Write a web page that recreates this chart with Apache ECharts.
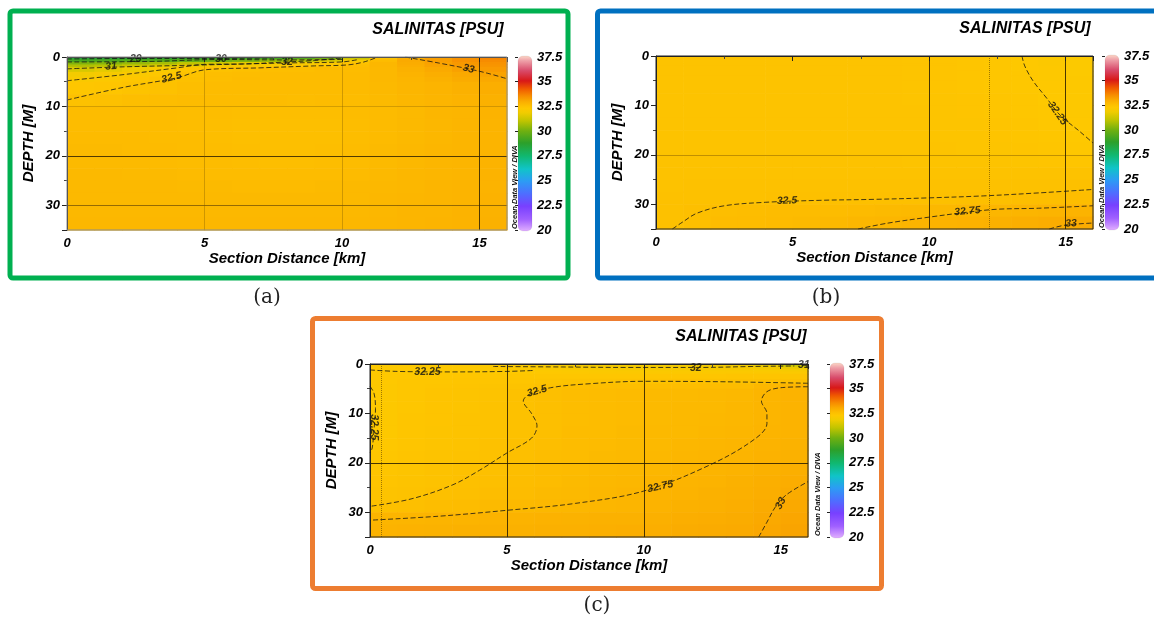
<!DOCTYPE html>
<html>
<head>
<meta charset="utf-8">
<script src="https://cdn.jsdelivr.net/npm/echarts@6/dist/echarts.min.js"></script>
<style>
  html, body { margin: 0; padding: 0; background: #ffffff; }
  #chart { width: 1154px; height: 620px; }
</style>
</head>
<body>
<div id="chart"></div>
<script>
// ---- Section grid (cell edges) ----
const distanceEdges = [0, 1, 2, 3, 4, 5, 6, 7, 8, 9, 10, 11, 12, 13, 14, 15, 16];
const depthEdges = [0, 0.5, 1, 1.5, 2, 3, 4, 5, 7.5, 10, 12.5, 15, 17.5, 20, 22.5, 25, 27.5, 30, 32.5, 35];

// ---- Salinity [PSU], one row per depth layer, one column per km ----
const salinityA = [
  [28.6, 28.6, 28.7, 28.8, 28.9, 29.0, 29.1, 29.2, 29.5, 30.0, 31.2, 32.4, 32.9, 33.2, 33.4, 33.6],
  [29.3, 29.4, 29.5, 29.6, 29.8, 30.0, 30.2, 30.5, 30.9, 31.4, 32.0, 32.6, 33.0, 33.2, 33.4, 33.5],
  [30.2, 30.3, 30.5, 30.7, 31.0, 31.3, 31.6, 31.8, 32.0, 32.2, 32.45, 32.7, 32.95, 33.15, 33.3, 33.4],
  [30.8, 30.9, 31.1, 31.4, 31.7, 31.95, 32.1, 32.15, 32.25, 32.35, 32.55, 32.7, 32.9, 33.1, 33.25, 33.35],
  [31.4, 31.6, 31.8, 32.05, 32.3, 32.45, 32.5, 32.55, 32.55, 32.58, 32.6, 32.68, 32.85, 33.0, 33.15, 33.25],
  [31.9, 32.0, 32.12, 32.28, 32.45, 32.55, 32.56, 32.58, 32.58, 32.6, 32.62, 32.68, 32.8, 32.92, 33.02, 33.12],
  [32.1, 32.2, 32.3, 32.4, 32.5, 32.55, 32.58, 32.6, 32.6, 32.6, 32.62, 32.68, 32.76, 32.85, 32.95, 33.02],
  [32.3, 32.35, 32.42, 32.48, 32.54, 32.58, 32.6, 32.6, 32.6, 32.6, 32.62, 32.66, 32.72, 32.78, 32.85, 32.92],
  [32.46, 32.5, 32.54, 32.56, 32.58, 32.58, 32.58, 32.58, 32.57, 32.58, 32.6, 32.64, 32.7, 32.75, 32.8, 32.85],
  [32.58, 32.58, 32.58, 32.58, 32.57, 32.56, 32.55, 32.54, 32.54, 32.55, 32.58, 32.62, 32.67, 32.72, 32.76, 32.8],
  [32.6, 32.6, 32.6, 32.59, 32.57, 32.55, 32.53, 32.52, 32.52, 32.53, 32.57, 32.62, 32.67, 32.71, 32.75, 32.78],
  [32.62, 32.62, 32.61, 32.6, 32.58, 32.55, 32.53, 32.52, 32.52, 32.53, 32.57, 32.62, 32.67, 32.71, 32.75, 32.78],
  [32.63, 32.63, 32.62, 32.61, 32.59, 32.56, 32.54, 32.53, 32.53, 32.55, 32.58, 32.63, 32.68, 32.72, 32.75, 32.78],
  [32.64, 32.64, 32.63, 32.62, 32.6, 32.58, 32.56, 32.55, 32.55, 32.57, 32.6, 32.64, 32.69, 32.72, 32.76, 32.79],
  [32.65, 32.65, 32.64, 32.63, 32.62, 32.6, 32.58, 32.58, 32.58, 32.6, 32.62, 32.66, 32.7, 32.73, 32.76, 32.8],
  [32.66, 32.66, 32.66, 32.65, 32.64, 32.63, 32.62, 32.62, 32.62, 32.63, 32.65, 32.68, 32.71, 32.74, 32.77, 32.8],
  [32.67, 32.67, 32.67, 32.67, 32.66, 32.65, 32.65, 32.65, 32.65, 32.66, 32.67, 32.7, 32.72, 32.75, 32.78, 32.81],
  [32.68, 32.68, 32.68, 32.68, 32.68, 32.68, 32.68, 32.68, 32.68, 32.68, 32.69, 32.71, 32.74, 32.76, 32.79, 32.82],
  [32.7, 32.7, 32.7, 32.7, 32.7, 32.7, 32.7, 32.7, 32.7, 32.7, 32.71, 32.73, 32.75, 32.78, 32.8, 32.83]
];

const salinityB = [
  [32.40, 32.40, 32.41, 32.41, 32.42, 32.42, 32.42, 32.41, 32.40, 32.38, 32.36, 32.33, 32.30, 32.25, 32.20, 32.17],
  [32.40, 32.40, 32.41, 32.41, 32.42, 32.42, 32.42, 32.41, 32.40, 32.38, 32.36, 32.33, 32.30, 32.25, 32.20, 32.17],
  [32.40, 32.40, 32.41, 32.41, 32.42, 32.42, 32.42, 32.41, 32.40, 32.38, 32.36, 32.33, 32.30, 32.25, 32.20, 32.17],
  [32.40, 32.40, 32.41, 32.41, 32.42, 32.42, 32.42, 32.41, 32.40, 32.38, 32.36, 32.33, 32.30, 32.25, 32.20, 32.17],
  [32.40, 32.40, 32.41, 32.41, 32.42, 32.42, 32.42, 32.41, 32.40, 32.38, 32.36, 32.33, 32.30, 32.26, 32.21, 32.18],
  [32.40, 32.40, 32.41, 32.41, 32.42, 32.42, 32.42, 32.41, 32.40, 32.38, 32.36, 32.34, 32.31, 32.27, 32.22, 32.19],
  [32.40, 32.40, 32.41, 32.41, 32.42, 32.42, 32.42, 32.41, 32.40, 32.39, 32.37, 32.34, 32.31, 32.28, 32.23, 32.20],
  [32.40, 32.40, 32.41, 32.41, 32.42, 32.42, 32.42, 32.41, 32.40, 32.39, 32.37, 32.35, 32.32, 32.29, 32.24, 32.21],
  [32.40, 32.41, 32.41, 32.42, 32.42, 32.42, 32.42, 32.42, 32.41, 32.39, 32.38, 32.36, 32.33, 32.31, 32.25, 32.22],
  [32.41, 32.41, 32.42, 32.42, 32.42, 32.42, 32.42, 32.42, 32.41, 32.40, 32.39, 32.37, 32.35, 32.32, 32.27, 32.23],
  [32.41, 32.41, 32.42, 32.42, 32.42, 32.42, 32.42, 32.42, 32.41, 32.40, 32.39, 32.38, 32.36, 32.34, 32.29, 32.24],
  [32.41, 32.41, 32.42, 32.42, 32.42, 32.42, 32.42, 32.42, 32.41, 32.40, 32.39, 32.38, 32.37, 32.35, 32.31, 32.26],
  [32.42, 32.42, 32.42, 32.42, 32.42, 32.42, 32.42, 32.42, 32.42, 32.41, 32.40, 32.39, 32.38, 32.36, 32.33, 32.29],
  [32.43, 32.43, 32.43, 32.43, 32.43, 32.43, 32.43, 32.43, 32.43, 32.42, 32.42, 32.41, 32.40, 32.39, 32.37, 32.35],
  [32.44, 32.44, 32.44, 32.44, 32.44, 32.44, 32.44, 32.44, 32.44, 32.44, 32.44, 32.44, 32.44, 32.44, 32.43, 32.43],
  [32.45, 32.46, 32.46, 32.46, 32.46, 32.46, 32.46, 32.46, 32.46, 32.47, 32.47, 32.47, 32.47, 32.48, 32.48, 32.49],
  [32.46, 32.47, 32.48, 32.48, 32.49, 32.49, 32.49, 32.49, 32.50, 32.51, 32.51, 32.52, 32.53, 32.54, 32.55, 32.56],
  [32.46, 32.52, 32.55, 32.56, 32.58, 32.59, 32.60, 32.62, 32.64, 32.66, 32.69, 32.71, 32.73, 32.75, 32.77, 32.79],
  [32.46, 32.53, 32.58, 32.60, 32.62, 32.64, 32.67, 32.70, 32.73, 32.77, 32.79, 32.81, 32.84, 32.88, 32.93, 32.98]
];

const salinityC = [
  [32.18, 32.2, 32.2, 32.2, 32.18, 32.12, 32.05, 32.0, 31.97, 31.95, 31.95, 31.95, 31.93, 31.9, 31.7, 31.1],
  [32.2, 32.22, 32.22, 32.22, 32.2, 32.15, 32.1, 32.05, 32.02, 32.0, 32.0, 32.0, 32.0, 31.98, 31.9, 31.7],
  [32.22, 32.24, 32.24, 32.24, 32.23, 32.2, 32.17, 32.14, 32.12, 32.1, 32.1, 32.1, 32.1, 32.1, 32.08, 32.0],
  [32.24, 32.26, 32.26, 32.26, 32.26, 32.25, 32.24, 32.22, 32.2, 32.2, 32.2, 32.2, 32.2, 32.2, 32.2, 32.15],
  [32.24, 32.28, 32.29, 32.3, 32.3, 32.3, 32.3, 32.3, 32.3, 32.32, 32.33, 32.34, 32.35, 32.36, 32.37, 32.38],
  [32.24, 32.3, 32.32, 32.33, 32.34, 32.35, 32.38, 32.4, 32.42, 32.44, 32.45, 32.46, 32.47, 32.48, 32.49, 32.5],
  [32.23, 32.31, 32.34, 32.36, 32.38, 32.42, 32.47, 32.52, 32.54, 32.55, 32.56, 32.57, 32.58, 32.6, 32.7, 32.76],
  [32.22, 32.32, 32.36, 32.38, 32.42, 32.48, 32.53, 32.57, 32.6, 32.62, 32.63, 32.64, 32.66, 32.69, 32.76, 32.79],
  [32.22, 32.32, 32.36, 32.39, 32.43, 32.47, 32.53, 32.57, 32.6, 32.61, 32.63, 32.65, 32.67, 32.7, 32.76, 32.79],
  [32.22, 32.33, 32.37, 32.4, 32.43, 32.47, 32.52, 32.57, 32.6, 32.62, 32.64, 32.66, 32.68, 32.71, 32.76, 32.79],
  [32.23, 32.34, 32.38, 32.41, 32.44, 32.48, 32.53, 32.58, 32.6, 32.63, 32.65, 32.67, 32.7, 32.73, 32.77, 32.8],
  [32.27, 32.35, 32.39, 32.42, 32.46, 32.5, 32.55, 32.59, 32.62, 32.64, 32.67, 32.7, 32.73, 32.75, 32.79, 32.82],
  [32.3, 32.37, 32.41, 32.44, 32.48, 32.52, 32.56, 32.6, 32.63, 32.66, 32.69, 32.72, 32.75, 32.77, 32.81, 32.85],
  [32.33, 32.39, 32.43, 32.47, 32.51, 32.55, 32.58, 32.62, 32.65, 32.68, 32.71, 32.75, 32.78, 32.8, 32.84, 32.88],
  [32.36, 32.41, 32.45, 32.49, 32.53, 32.57, 32.6, 32.64, 32.68, 32.71, 32.74, 32.77, 32.8, 32.83, 32.88, 32.93],
  [32.41, 32.45, 32.5, 32.53, 32.57, 32.6, 32.63, 32.66, 32.7, 32.74, 32.77, 32.8, 32.83, 32.87, 32.92, 32.97],
  [32.5, 32.53, 32.56, 32.6, 32.63, 32.66, 32.68, 32.7, 32.72, 32.76, 32.79, 32.83, 32.87, 32.91, 32.97, 33.02],
  [32.75, 32.76, 32.77, 32.78, 32.79, 32.8, 32.81, 32.82, 32.83, 32.85, 32.87, 32.9, 32.93, 32.96, 33.02, 33.07],
  [32.8, 32.81, 32.82, 32.83, 32.84, 32.85, 32.86, 32.87, 32.88, 32.9, 32.92, 32.95, 32.97, 33.0, 33.05, 33.1]
];

// ---- Isohalines: [distance km, depth m] ----
const contoursA = [
  { level: '29',   points: [[0, 0.4], [2, 0.3], [5, 0.3], [7.5, 0.2]] },
  { level: '30',   points: [[0, 1.0], [3, 0.9], [5.6, 0.5], [8, 0.6], [10, 0.5]] },
  { level: '31',   points: [[0, 2.4], [2, 2.0], [5, 1.6], [8, 1.2], [10, 1.0], [10.6, 0.5]] },
  { level: '32',   points: [[0, 4.8], [2, 3.6], [4, 2.2], [5, 1.5], [6.5, 1.4], [8, 1.0], [9, 0.7], [10, 0.2]] },
  { level: '32.5', points: [[0, 8.7], [2, 6.2], [4, 4.2], [5, 2.6], [7, 2.2], [9, 1.8], [10.2, 1.6], [10.8, 1.0], [11.3, 0]] },
  { level: '33',   points: [[12.3, 0], [13.5, 1.2], [14.6, 2.4], [15.3, 3.3], [16, 4.4]] }
];
const contourLabelsA = [
  [2.5, 0.45, '29', 0], [5.6, 0.5, '30', 0], [1.6, 1.9, '31', 4], [8.0, 1.0, '32', 0],
  [3.8, 4.2, '32.5', 14], [14.6, 2.4, '33', -14]
];

const contoursB = [
  { level: '32.25', points: [[13.4, 0], [13.5, 2], [13.8, 5], [14.3, 8.5], [14.8, 12], [15.5, 15.2], [16, 17.6]] },
  { level: '32.5',  points: [[0.6, 35], [1.0, 33.5], [1.5, 31.8], [2.5, 30.3], [4, 29.6], [6, 29.2], [8, 29.0], [10, 28.7], [12, 28.3], [14, 27.7], [16, 27]] },
  { level: '32.75', points: [[7.4, 35], [8.5, 33.8], [10, 32.6], [11.4, 31.6], [12.5, 31.0], [14, 30.8], [16, 30.3]] },
  { level: '33',    points: [[14.4, 35], [15, 34.2], [16, 33.8]] }
];
const contourLabelsB = [
  [14.7, 11.6, '32.25', -55], [4.8, 29.3, '32.5', 2], [11.4, 31.4, '32.75', 5], [15.2, 33.9, '33', 4]
];

const contoursC = [
  { level: '32.25', points: [[0, 1.2], [1, 1.5], [3, 1.6], [5, 1.5], [6, 1.3]] },
  { level: '32.25', points: [[0, 4.5], [0.15, 6], [0.2, 9], [0.15, 13], [0.08, 17], [0, 18]] },
  { level: '32',    points: [[4.5, 0.5], [7, 0.6], [9.4, 0.7], [12, 0.7], [14, 0.5], [15.5, 0.4]] },
  { level: '31',    points: [[15.5, 0], [16, 0.4]] },
  { level: '32.5',  points: [[16, 3.9], [13, 3.6], [10, 3.5], [8, 4.0], [6.6, 4.8], [5.8, 6.2], [5.6, 7.5], [5.9, 10], [6.1, 12.5], [5.9, 15], [5, 18], [4, 21.5], [3, 24.5], [1.5, 27.3], [0, 28.8]] },
  { level: '32.75', points: [[16, 4.6], [15, 4.8], [14.5, 5.6], [14.3, 7.5], [14.5, 10], [14.5, 12], [14.1, 15], [12.5, 20.2], [10, 25.7], [7.5, 28.2], [5, 29.6], [2.5, 30.8], [0, 31.6]] },
  { level: '33',    points: [[14.2, 35], [14.5, 32], [14.8, 29], [15.2, 26.5], [16, 23.8]] }
];
const contourLabelsC = [
  [2.1, 1.7, '32.25', 0], [0.15, 12.8, '32.25', -90], [11.9, 0.8, '32', 0], [15.85, 0.25, '31', 0],
  [6.1, 5.5, '32.5', 16], [10.6, 24.8, '32.75', 12], [15.0, 28.2, '33', 62]
];

// Station / reference lines drawn as dotted verticals
const stationsA = [];
const stationsB = [12.2];
const stationsC = [0.4];

// Colour bar ticks
const colorbarMin = 20;
const colorbarMax = 37.5;
const colorbarStep = 2.5;

// ---- Ocean Data View style palette ----
const palette = [
  [20, '#e2b0ff'], [21.2, '#a060ff'], [22.5, '#7840ff'], [23.8, '#4c70ff'],
  [25, '#2c9cf4'], [26.2, '#10c4c8'], [27.5, '#10b870'], [28.8, '#2ca02a'],
  [30, '#70b010'], [31, '#c0c400'], [31.8, '#f0cc00'], [32.25, '#fec800'],
  [32.5, '#fdc000'], [32.75, '#fcb500'], [33, '#faaa00'], [33.5, '#f78c00'],
  [34.2, '#f05a00'], [35, '#d81818'], [36, '#d84a6a'], [37, '#eea0a8'], [37.5, '#fcd8c8']
];
function hexToRgb(h) {
  return [parseInt(h.slice(1, 3), 16), parseInt(h.slice(3, 5), 16), parseInt(h.slice(5, 7), 16)];
}
function salinityColor(v) {
  if (v <= palette[0][0]) return palette[0][1];
  for (let i = 1; i < palette.length; i++) {
    if (v <= palette[i][0]) {
      const t = (v - palette[i - 1][0]) / (palette[i][0] - palette[i - 1][0]);
      const a = hexToRgb(palette[i - 1][1]), b = hexToRgb(palette[i][1]);
      const c = a.map((x, k) => Math.round(x + (b[k] - x) * t));
      return 'rgb(' + c.join(',') + ')';
    }
  }
  return palette[palette.length - 1][1];
}

// ---- Layout of the three section panels ----
const FONT = '"Liberation Sans", Arial, sans-serif';
const layout = [
  { left: 67, top: 57, width: 440, height: 173, cbLeft: 518, creditX: 515, titleX: 438, titleY: 30,
    frame: { x: 10, y: 11, w: 558, h: 267, color: '#00b050' }, tag: '(a)', tagX: 267, tagY: 298,
    border: '#8a8a8a',
    xLines: ['rgba(0,0,0,0)', 'rgba(120,85,0,0.35)', 'rgba(120,85,0,0.35)', 'rgba(50,35,0,0.85)'],
    yLines: ['rgba(0,0,0,0)', 'rgba(120,85,0,0.3)', 'rgba(50,35,0,0.85)', 'rgba(80,55,0,0.6)'] },
  { left: 656, top: 56, width: 437, height: 173, cbLeft: 1105, creditX: 1102, titleX: 1025, titleY: 29,
    frame: { x: 597.5, y: 11, w: 570, h: 267, color: '#0070c0' }, tag: '(b)', tagX: 826, tagY: 298,
    border: '#222222',
    xLines: ['rgba(0,0,0,0)', 'rgba(0,0,0,0)', 'rgba(40,28,0,0.85)', 'rgba(40,28,0,0.85)'],
    yLines: ['rgba(0,0,0,0)', 'rgba(0,0,0,0)', 'rgba(120,85,0,0.45)', 'rgba(0,0,0,0)'] },
  { left: 370, top: 364, width: 438, height: 173, cbLeft: 830, creditX: 818, titleX: 741, titleY: 337,
    frame: { x: 312.5, y: 318.5, w: 569, h: 270, color: '#ed7d31' }, tag: '(c)', tagX: 597, tagY: 606,
    border: '#222222',
    xLines: ['rgba(0,0,0,0)', 'rgba(40,28,0,0.85)', 'rgba(40,28,0,0.85)', 'rgba(0,0,0,0)'],
    yLines: ['rgba(0,0,0,0)', 'rgba(0,0,0,0)', 'rgba(40,28,0,0.85)', 'rgba(0,0,0,0)'] }
];
const fields = [salinityA, salinityB, salinityC];
const contourSets = [contoursA, contoursB, contoursC];
const labelSets = [contourLabelsA, contourLabelsB, contourLabelsC];
const stationSets = [stationsA, stationsB, stationsC];

function cellsOf(field) {
  const out = [];
  for (let r = 0; r < depthEdges.length - 1; r++) {
    for (let c = 0; c < distanceEdges.length - 1; c++) {
      out.push([distanceEdges[c], distanceEdges[c + 1], depthEdges[r], depthEdges[r + 1], field[r][c]]);
    }
  }
  return out;
}

const grids = [], xAxes = [], yAxes = [], series = [], graphics = [];
const tickLabel = { fontFamily: FONT, fontWeight: 'bold', fontStyle: 'italic', fontSize: 13, color: '#000' };

layout.forEach((L, i) => {
  // section plot
  const pi = grids.length;
  grids.push({ left: L.left, top: L.top, width: L.width, height: L.height, containLabel: false });
  xAxes.push({
    type: 'value', gridIndex: pi, min: 0, max: 16, interval: 5, z: 5,
    name: 'Section Distance [km]', nameLocation: 'middle', nameGap: 20,
    nameTextStyle: { fontFamily: FONT, fontWeight: 'bold', fontStyle: 'italic', fontSize: 15, color: '#000' },
    axisLine: { show: true, lineStyle: { color: '#222', width: 1 } },
    axisTick: { show: true, length: 5, lineStyle: { color: '#222' } },
    minorTick: { show: true, splitNumber: 2, length: 3, lineStyle: { color: '#444' } },
    axisLabel: Object.assign({ margin: 7, showMaxLabel: false }, tickLabel),
    splitLine: { show: true, lineStyle: { color: L.xLines, width: 1 } }
  });
  yAxes.push({
    type: 'value', gridIndex: pi, min: 0, max: 35, interval: 10, inverse: true, z: 5,
    name: 'DEPTH [M]', nameLocation: 'middle', nameGap: 31,
    nameTextStyle: { fontFamily: FONT, fontWeight: 'bold', fontStyle: 'italic', fontSize: 15, color: '#000' },
    axisLine: { show: true, lineStyle: { color: '#222', width: 1 } },
    axisTick: { show: true, length: 5, lineStyle: { color: '#222' } },
    minorTick: { show: true, splitNumber: 2, length: 3, lineStyle: { color: '#444' } },
    axisLabel: Object.assign({ margin: 7, showMaxLabel: false }, tickLabel),
    splitLine: { show: true, lineStyle: { color: L.yLines, width: 1 } }
  });

  // salinity field
  series.push({
    type: 'custom', xAxisIndex: pi, yAxisIndex: pi, z: 1, silent: true, animation: false,
    data: cellsOf(fields[i]),
    encode: { x: [0, 1], y: [2, 3] },
    renderItem: function (params, api) {
      const p0 = api.coord([api.value(0), api.value(2)]);
      const p1 = api.coord([api.value(1), api.value(3)]);
      return {
        type: 'rect',
        shape: {
          x: Math.min(p0[0], p1[0]), y: Math.min(p0[1], p1[1]),
          width: Math.abs(p1[0] - p0[0]) + 0.6, height: Math.abs(p1[1] - p0[1]) + 0.6
        },
        style: { fill: salinityColor(api.value(4)) }
      };
    }
  });

  // isohalines
  contourSets[i].forEach(c => {
    series.push({
      type: 'line', xAxisIndex: pi, yAxisIndex: pi, z: 6, silent: true, animation: false,
      data: c.points, smooth: 0.35, symbol: 'none',
      lineStyle: { color: '#141414', width: 0.8, type: [5, 2.5] }
    });
  });

  // isohaline labels + station lines
  series.push({
    type: 'scatter', xAxisIndex: pi, yAxisIndex: pi, z: 7, silent: true, animation: false,
    symbolSize: 1, itemStyle: { color: 'rgba(0,0,0,0)' },
    data: labelSets[i].map(l => ({ value: [l[0], l[1]], name: l[2], label: { rotate: l[3] } })),
    label: {
      show: true, position: 'inside', formatter: p => p.name,
      fontFamily: FONT, fontWeight: 'bold', fontStyle: 'italic', fontSize: 10.5, color: '#111'
    },
    markLine: {
      silent: true, symbol: ['none', 'none'], animation: false, label: { show: false },
      lineStyle: { type: 'dotted', color: 'rgba(120,85,0,0.7)', width: 1 },
      data: stationSets[i].map(s => ({ xAxis: s }))
    }
  });

  // colour bar axis
  const gi = grids.length;
  grids.push({ left: L.cbLeft, top: L.top, width: 14, height: L.height });
  xAxes.push({ type: 'value', gridIndex: gi, min: 0, max: 1, show: false });
  yAxes.push({
    type: 'value', gridIndex: gi, min: colorbarMin, max: colorbarMax, interval: colorbarStep,
    position: 'right', z: 10,
    axisLine: { show: false },
    axisTick: { show: true, inside: true, length: 3, lineStyle: { color: '#222' } },
    axisLabel: Object.assign({ margin: 5 }, tickLabel),
    splitLine: { show: false }
  });
  series.push({ type: 'scatter', xAxisIndex: gi, yAxisIndex: gi, data: [] });

  // colour bar body
  const stops = palette.map(p => ({ offset: (colorbarMax - p[0]) / (colorbarMax - colorbarMin), color: p[1] }))
    .sort((a, b) => a.offset - b.offset);
  graphics.push({
    type: 'rect', z: 1,
    shape: { x: L.cbLeft, y: L.top - 1, width: 14, height: L.height + 2, r: 5 },
    style: { fill: new echarts.graphic.LinearGradient(0, 0, 0, 1, stops), stroke: 'rgba(0,0,0,0.12)', lineWidth: 0.5 }
  });

  // plot border
  graphics.push({
    type: 'rect', z: 100, silent: true,
    shape: { x: L.left, y: L.top, width: L.width, height: L.height },
    style: { fill: null, stroke: L.border, lineWidth: 1 }
  });

  // panel frame
  graphics.push({
    type: 'rect', z: 0, silent: true,
    shape: { x: L.frame.x, y: L.frame.y, width: L.frame.w, height: L.frame.h, r: 3 },
    style: { fill: null, stroke: L.frame.color, lineWidth: 5 }
  });

  // title
  graphics.push({
    type: 'text', z: 50, x: L.titleX, y: L.titleY,
    style: { text: 'SALINITAS [PSU]', align: 'center', verticalAlign: 'middle',
      fontFamily: FONT, fontWeight: 'bold', fontStyle: 'italic', fontSize: 16, fill: '#000' }
  });

  // software credit beside colour bar
  graphics.push({
    type: 'text', z: 50, x: L.creditX, y: L.top + L.height - 1, rotation: Math.PI / 2,
    style: { text: 'Ocean Data View / DIVA', align: 'left', verticalAlign: 'middle',
      fontFamily: FONT, fontWeight: 'bold', fontStyle: 'italic', fontSize: 7.5, fill: '#111' }
  });

  // panel tag
  graphics.push({
    type: 'text', z: 50, x: L.tagX, y: L.tagY,
    style: { text: L.tag, align: 'center', verticalAlign: 'middle',
      fontFamily: '"DejaVu Serif", "Liberation Serif", serif', fontSize: 20, fill: '#222' }
  });
});

const chart = echarts.init(document.getElementById('chart'), null, { renderer: 'canvas' });
chart.setOption({
  backgroundColor: '#ffffff',
  animation: false,
  grid: grids,
  xAxis: xAxes,
  yAxis: yAxes,
  series: series,
  graphic: { elements: graphics }
});
</script>
</body>
</html>
